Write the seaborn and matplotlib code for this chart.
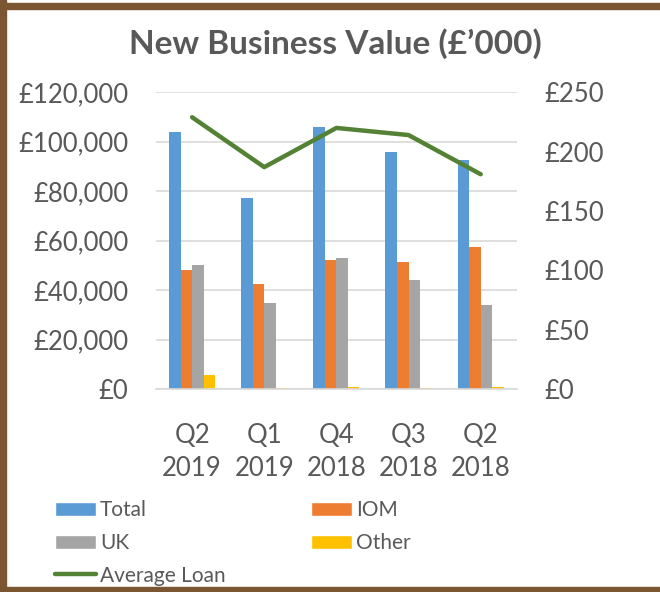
import numpy as np
import pandas as pd
import matplotlib
matplotlib.use('Agg')
import matplotlib.pyplot as plt
import seaborn as sns
from matplotlib.patches import Rectangle, Patch
from matplotlib.lines import Line2D
from matplotlib.ticker import FuncFormatter

# 数据
quarters = ['Q2\n2019', 'Q1\n2019', 'Q4\n2018', 'Q3\n2018', 'Q2\n2018']
total = [104100, 77200, 106100, 95900, 92600]
iom = [48200, 42400, 52200, 51300, 57500]
uk = [50200, 34700, 52900, 44000, 34100]
other = [5800, 650, 1000, 600, 1000]
avg_loan = [229, 187, 220, 214, 181]

series_names = ['Total', 'IOM', 'UK', 'Other']
series_colors = ['#5B9BD5', '#ED7D31', '#A5A5A5', '#FFC000']
line_color = '#548235'
text_color = '#595959'
grid_color = '#D9D9D9'
border_color = '#7C5633'

df = pd.DataFrame({'quarter': quarters, 'Total': total, 'IOM': iom, 'UK': uk, 'Other': other})
long_df = df.melt(id_vars='quarter', var_name='series', value_name='value')

sns.set_theme(style='white')
plt.rcParams['font.family'] = ['Lato', 'DejaVu Sans']

fig = plt.figure(figsize=(6.6, 5.92), dpi=100)
ax = fig.add_axes([0.2364, 0.3424, 0.5466, 0.5017])

sns.barplot(data=long_df, x='quarter', y='value', hue='series', order=quarters,
            hue_order=series_names, palette=series_colors, saturation=1,
            width=0.64, linewidth=0, legend=False, ax=ax)
ax.set_ylim(0, 120000)
ax.set_yticks(np.arange(0, 120001, 20000))
ax.yaxis.set_major_formatter(FuncFormatter(lambda v, p: f'£{v:,.0f}'))
ax.set_xlabel('')
ax.set_ylabel('')
ax.grid(axis='y', color=grid_color, linewidth=1.2)
ax.set_axisbelow(True)
for s in ['left', 'right', 'top']:
    ax.spines[s].set_visible(False)
ax.spines['bottom'].set_color(grid_color)
ax.spines['bottom'].set_linewidth(1.2)
ax.tick_params(axis='y', length=0, pad=20, labelsize=18.5, labelcolor=text_color)
ax.tick_params(axis='x', length=0, pad=24, labelsize=18.5, labelcolor=text_color)
for lbl in ax.get_xticklabels():
    lbl.set_linespacing(1.4)

# 平均贷款折线
ax2 = ax.twinx()
sns.lineplot(x=np.arange(len(quarters)), y=avg_loan, color=line_color, linewidth=3.2,
             sort=False, ax=ax2)
ax2.set_ylim(0, 250)
ax2.set_yticks(np.arange(0, 251, 50))
ax2.yaxis.set_major_formatter(FuncFormatter(lambda v, p: f'£{v:,.0f}'))
ax2.tick_params(axis='y', length=0, pad=20, labelsize=18.5, labelcolor=text_color)
for s in ['left', 'right', 'top', 'bottom']:
    ax2.spines[s].set_visible(False)
ax2.grid(False)
ax.set_xlim(-0.5, len(quarters) - 0.5)

fig.text(0.508, 0.926, 'New Business Value (£’000)', ha='center', va='center',
         fontsize=24, fontweight='bold', color=text_color)

# 图例
handles = [Patch(facecolor=series_colors[0]), Patch(facecolor=series_colors[2]),
           Line2D([], [], color=line_color, linewidth=3.2),
           Patch(facecolor=series_colors[1]), Patch(facecolor=series_colors[3])]
labels = ['Total', 'UK', 'Average Loan', 'IOM', 'Other']
leg = fig.legend(handles, labels, ncol=2, loc='upper left', bbox_to_anchor=(0.083, 0.155),
                 frameon=False, fontsize=15, handlelength=1.97, handleheight=0.67,
                 handletextpad=0.2, columnspacing=4.1, labelspacing=0.61,
                 borderaxespad=0, borderpad=0)
for t in leg.get_texts():
    t.set_color(text_color)

# 棕色边框
fig.add_artist(Rectangle((0, 0), 6 / 660, 1, transform=fig.transFigure, color=border_color))
fig.add_artist(Rectangle((0, 1 - 8.5 / 592), 1, 5.5 / 592, transform=fig.transFigure, color=border_color))
fig.add_artist(Rectangle((0, 0), 1, 5.5 / 592, transform=fig.transFigure, color=border_color))

fig.savefig('out.png', dpi=100)
